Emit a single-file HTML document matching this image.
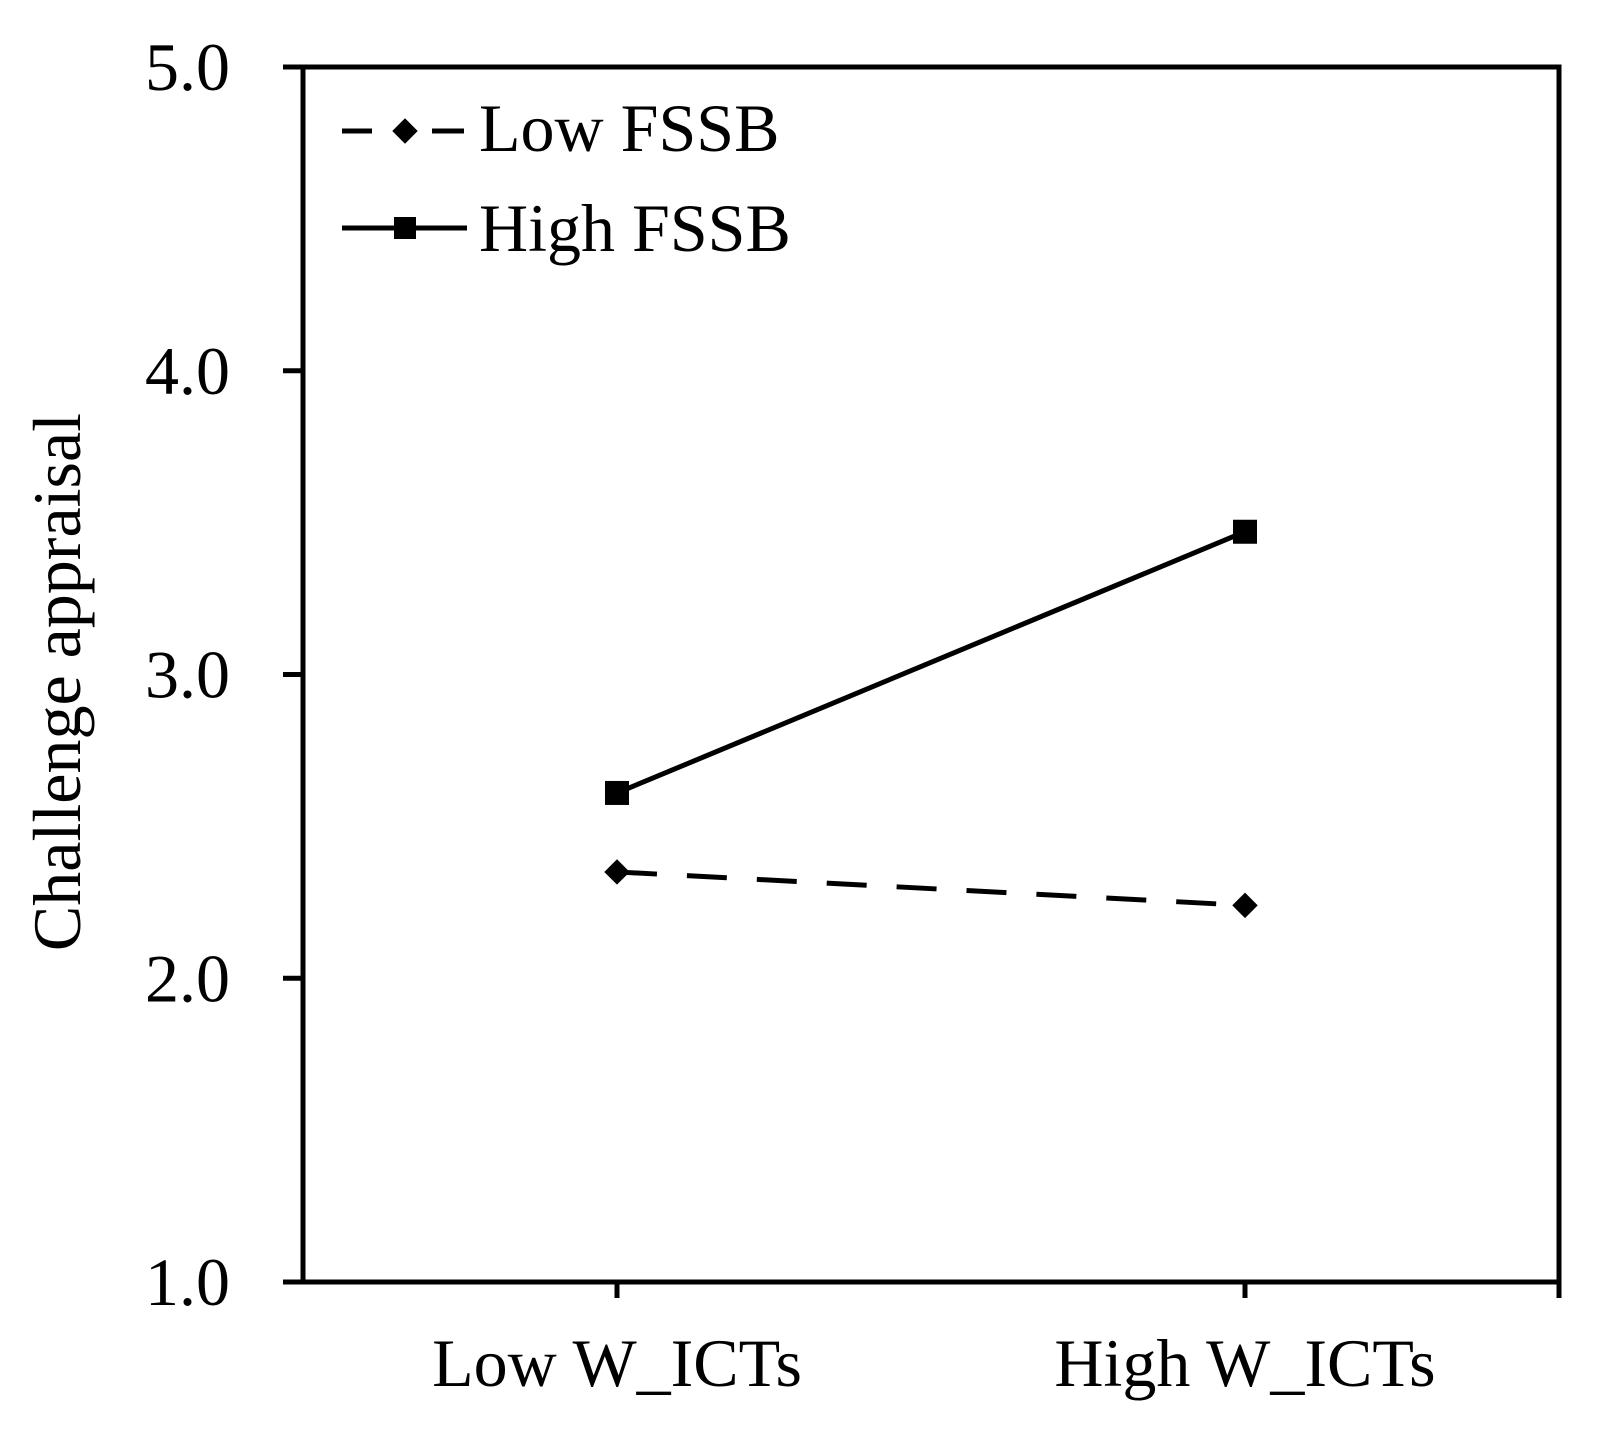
<!DOCTYPE html>
<html><head><meta charset="utf-8"><style>
body{margin:0;background:#fff}
svg text{font-family:"Liberation Serif",serif;fill:#000}
</style></head><body>
<svg width="1598" height="1436" viewBox="0 0 1598 1436">
<g id="axes"></g><g id="series"></g>
<g>
 <g>
  <line x1="342" y1="131" x2="372" y2="131" stroke="#000" stroke-width="5"/>
  <line x1="432" y1="131" x2="464" y2="131" stroke="#000" stroke-width="5"/>
  <rect x="396" y="122" width="18" height="18" transform="rotate(45 405 131)" fill="#000"/>
  <text x="479" y="151" font-size="68">Low FSSB</text>
 </g>
 <g>
  <line x1="342" y1="228" x2="467" y2="228" stroke="#000" stroke-width="5"/>
  <rect x="394" y="217" width="22" height="22" fill="#000"/>
  <text x="479" y="251" font-size="68">High FSSB</text>
 </g>
</g>
<text font-size="68" text-anchor="middle" transform="translate(80 682) rotate(-90)">Challenge appraisal</text>
</svg>
<script>
const categories = ["Low W_ICTs","High W_ICTs"];
const lowFSSB = [2.35, 2.24];
const highFSSB = [2.61, 3.47];
const yTicks = [1.0, 2.0, 3.0, 4.0, 5.0];
const yTickLabels = ["1.0","2.0","3.0","4.0","5.0"];
const L=303,R=1559,T=67,B=1282, yMin=1, yMax=5;
const NS="http://www.w3.org/2000/svg";
const yS=v=>B-(v-yMin)/(yMax-yMin)*(B-T);
const xS=i=>L+(i+0.5)/categories.length*(R-L);
function mk(tag,attrs,parent){const e=document.createElementNS(NS,tag);for(const k in attrs)e.setAttribute(k,attrs[k]);parent.appendChild(e);return e;}
const ax=document.getElementById('axes');
const frame=mk('rect',{x:L,y:T,width:R-L,height:B-T,fill:'none',stroke:'#000','stroke-width':5},ax);


yTicks.forEach((v,i)=>{
 const t=mk('line',{x1:L-20,x2:L,y1:yS(v),y2:yS(v),stroke:'#000','stroke-width':5},ax);
 
 
 const tx=mk('text',{x:230,y:yS(v)+23,'font-size':68,'text-anchor':'end'},ax);
 tx.textContent=yTickLabels[i];
 
 
});
categories.forEach((c,i)=>{
 const t=mk('line',{x1:xS(i),x2:xS(i),y1:B,y2:B+16,stroke:'#000','stroke-width':5},ax);
 
 
 const tx=mk('text',{x:xS(i),y:1386,'font-size':68,'text-anchor':'middle'},ax);
 tx.textContent=c;
 
 
});
const et=mk('line',{x1:R,x2:R,y1:B,y2:B+16,stroke:'#000','stroke-width':5},ax);


const sg=document.getElementById('series');
const lowLine=mk('polyline',{points:lowFSSB.map((v,i)=>xS(i)+','+yS(v)).join(' '),fill:'none',stroke:'#000','stroke-width':5,'stroke-dasharray':'40,30'},sg);


const highLine=mk('polyline',{points:highFSSB.map((v,i)=>xS(i)+','+yS(v)).join(' '),fill:'none',stroke:'#000','stroke-width':5},sg);


lowFSSB.forEach((v,i)=>{
 const m=mk('rect',{x:xS(i)-9,y:yS(v)-9,width:18,height:18,fill:'#000',transform:`rotate(45 ${xS(i)} ${yS(v)})`},sg);
 
 
});
highFSSB.forEach((v,i)=>{
 const m=mk('rect',{x:xS(i)-12,y:yS(v)-12,width:24,height:24,fill:'#000'},sg);
 
 
});
</script>
</body></html>
